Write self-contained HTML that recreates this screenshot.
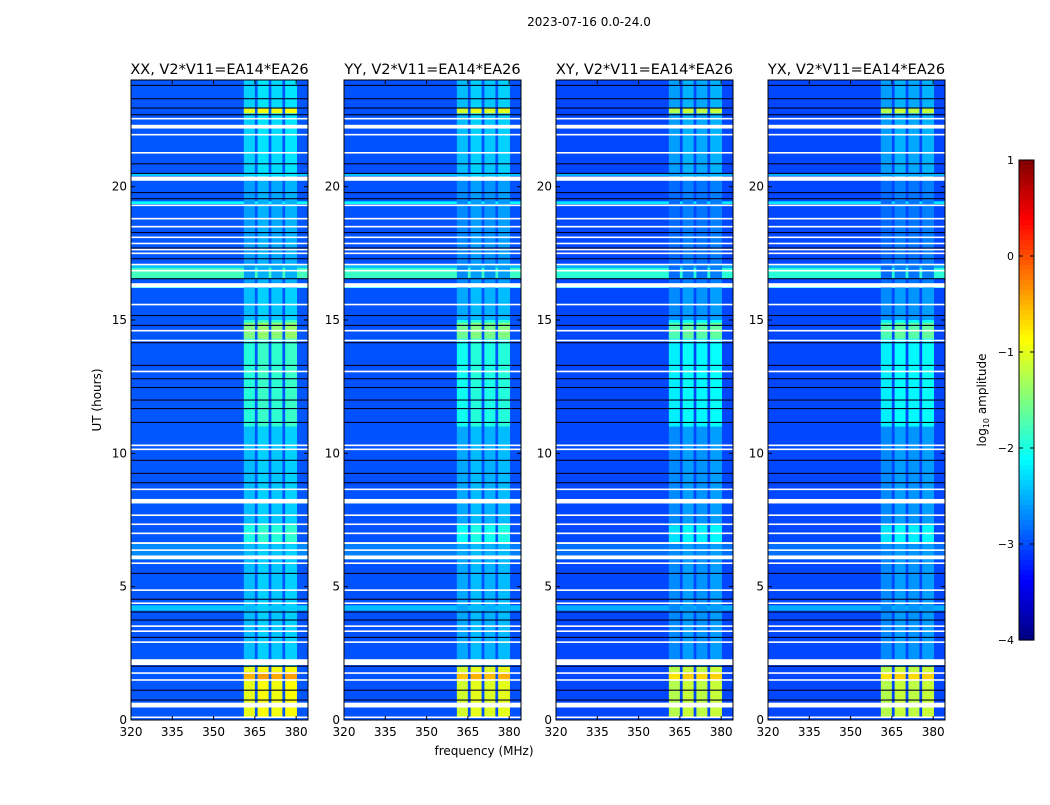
<!DOCTYPE html>
<html><head><meta charset="utf-8">
<style>
body{margin:0;background:#fff;width:1050px;height:800px;overflow:hidden;font-family:"Liberation Sans",sans-serif}
svg text{font-family:"DejaVu Sans","Liberation Sans",sans-serif}
</style></head>
<body>
<svg id="chart" width="1050" height="800" xmlns="http://www.w3.org/2000/svg"></svg>
<script>
// ---- data ----
const panelTitles = ["XX, V2*V11=EA14*EA26","YY, V2*V11=EA14*EA26","XY, V2*V11=EA14*EA26","YX, V2*V11=EA14*EA26"];
const panelLeft = [131,344,556,768];
const xTicks = [320,335,350,365,380];
const yTicks = [0,5,10,15,20];
const cbTicks = [1,0,-1,-2,-3,-4];
const backgroundLevel = -2.95;
const panelOffset = [0, -0.1, -0.25, -0.25];
// bright broadband rows [start h, end h, log amplitude]
const brightRows = [[16.55,16.95,-1.8],[16.2,16.3,-2.1],[16.95,17.05,-2.4],[19.35,19.45,-2.1],[6.0,6.6,-2.7],[4.1,4.3,-2.4],[20.4,20.5,-2.4]];
// RFI frequency sub-bands (MHz)
const rfiBands = [[361,365],[366,370],[371,375],[376,380.3]];
const rfiBandOffset = [0, 0.1, 0.05, 0.1];
// RFI time segments [start h, end h, log amplitude]
const rfiSegments = [[2.0,11,-2.45],[6.6,7.3,-2.0],[11,15,-1.95],[14.3,14.9,-1.5],[15,16.2,-2.45],[16.2,20.3,-2.6],[20.3,24,-2.35],[22.75,22.95,-1.0],[0.1,2.0,-1.0],[1.5,1.8,-0.5]];
// thin dark rows (hours)
const darkRows = [23.8,23.3,22.95,22.7,20.86,20.5,19.78,19.55,18.28,17.7,17.3,16.55,15.17,14.8,14.15,13.3,12.8,12.47,12.0,11.68,11.16,9.74,9.25,8.9,5.5,4.53,4.05,3.75,3.1,2.02,1.12,0.75];
// flagged (white) rows [start h, end h]
const flaggedRows = [[22.52,22.58],[22.18,22.32],[21.92,21.98],[21.24,21.3],[20.22,20.38],[19.27,19.33],[18.77,18.83],[18.47,18.53],[18.07,18.13],[17.84,17.9],[17.61,17.67],[17.47,17.53],[17.05,17.11],[16.82,16.88],[16.22,16.38],[15.55,15.61],[14.57,14.63],[14.2,14.26],[13.04,13.1],[10.27,10.33],[10.12,10.18],[8.62,8.68],[8.12,8.29],[7.65,7.71],[7.31,7.37],[6.97,7.03],[6.6,6.67],[6.34,6.4],[6.03,6.17],[5.85,5.91],[4.84,4.9],[4.35,4.41],[3.49,3.55],[3.3,3.36],[2.89,2.95],[2.06,2.28],[1.73,1.79],[1.47,1.53],[0.47,0.65],[0.07,0.13]];

// ---- helpers ----
const NS="http://www.w3.org/2000/svg";
const svg=document.getElementById('chart');
const PT=80,PB=720,PW=177,FMIN=320,FMAX=384.3,TMAX=24;
function yScale(h){return PB-(h/TMAX)*(PB-PT);}
function xScale(p,f){return panelLeft[p]+(f-FMIN)/(FMAX-FMIN)*PW;}
function jet(v){let t=Math.max(0,Math.min(1,(v+4)/5));
 const c=x=>Math.round(255*Math.max(0,Math.min(1,x)));
 return `rgb(${c(1.5-Math.abs(4*t-3))},${c(1.5-Math.abs(4*t-2))},${c(1.5-Math.abs(4*t-1))})`;}
function el(tag,attrs,parent){const e=document.createElementNS(NS,tag);for(const k in attrs)e.setAttribute(k,attrs[k]);(parent||svg).appendChild(e);return e;}
function txt(x,y,s,size,anchor,parent){const t=el('text',{x:x,y:y,'font-size':size,'text-anchor':anchor||'middle',fill:'#000'},parent);t.textContent=s;return t;}

for(let p=0;p<4;p++){
 const g=el('g',{});
 
 
 const x0=panelLeft[p];
 const bg=el('rect',{x:x0,y:PT,width:PW,height:PB-PT,fill:jet(backgroundLevel+panelOffset[p]*0.3)},g);
 
 
 brightRows.forEach(r=>{
  const y1=yScale(r[1]),y0=yScale(r[0]);
  const e=el('rect',{x:x0,y:y1,width:PW,height:y0-y1,fill:jet(r[2]+panelOffset[p]*0.5)},g);
  
  
 });
 rfiSegments.forEach(s=>{
  rfiBands.forEach((b,i)=>{
   const y1=yScale(s[1]),y0=yScale(s[0]);
   const xa=xScale(p,b[0]),xb=xScale(p,b[1]);
   const e=el('rect',{x:xa,y:y1,width:xb-xa,height:y0-y1,fill:jet(s[2]+rfiBandOffset[i]+panelOffset[p])},g);
   
   
  });
 });
 darkRows.forEach(h=>{
  const e=el('rect',{x:x0,y:yScale(h)-0.5,width:PW,height:1.1,fill:'#000020'},g);
  
  
 });
 flaggedRows.forEach(r=>{
  const y1=yScale(r[1]),y0=yScale(r[0]);
  const e=el('rect',{x:x0,y:y1,width:PW,height:Math.max(1.3,y0-y1),fill:'#fff'},g);
  
  
 });
 el('rect',{x:x0,y:PT,width:PW,height:PB-PT,fill:'none',stroke:'#000','stroke-width':1},g);
 const t=txt(x0+PW/2,74,panelTitles[p],14.5,'middle',g);
 
 
 xTicks.forEach(f=>{
  const x=xScale(p,f);
  el('line',{x1:x,x2:x,y1:PB,y2:PB-4,stroke:'#000'},g);
  el('line',{x1:x,x2:x,y1:PT,y2:PT+4,stroke:'#000'},g);
  const l=txt(x,736,String(f),12,'middle',g);
  
  
 });
 yTicks.forEach(h=>{
  const y=yScale(h);
  el('line',{x1:x0,x2:x0+4,y1:y,y2:y,stroke:'#000'},g);
  el('line',{x1:x0+PW,x2:x0+PW-4,y1:y,y2:y,stroke:'#000'},g);
  const l=txt(x0-4,y+4,String(h),12,'end',g);
  
  
 });
}
let t;
t=txt(589,26,"2023-07-16 0.0-24.0",12);


t=txt(484,755,"frequency (MHz)",12);


t=el('text',{x:0,y:0,'font-size':12,'text-anchor':'middle',transform:'translate(101,400) rotate(-90)'});
t.textContent="UT (hours)";



// colorbar
const cb=el('g',{});


const CBX=1019,CBW=15,CBT=160,CBB=640;
for(let i=0;i<96;i++){
 const v=1-5*(i+0.5)/96;
 el('rect',{x:CBX,y:CBT+i*(CBB-CBT)/96,width:CBW,height:(CBB-CBT)/96+0.6,fill:jet(v)},cb);
}
el('rect',{x:CBX,y:CBT,width:CBW,height:CBB-CBT,fill:'none',stroke:'#000'},cb);
cbTicks.forEach(v=>{
 const y=CBT+(1-v)/5*(CBB-CBT);
 el('line',{x1:CBX,x2:CBX+4,y1:y,y2:y,stroke:'#000'},cb);
 el('line',{x1:CBX+CBW,x2:CBX+CBW-4,y1:y,y2:y,stroke:'#000'},cb);
 const l=txt(CBX-5,y+4,v<0?'\u2212'+(-v):String(v),11,'end',cb);
 
 
});
t=el('text',{x:0,y:0,'font-size':12,'text-anchor':'middle',transform:'translate(986,400) rotate(-90)'});
t.innerHTML='log<tspan font-size="8" dy="3">10</tspan><tspan dy="-3"> amplitude</tspan>';


</script>
</body></html>
